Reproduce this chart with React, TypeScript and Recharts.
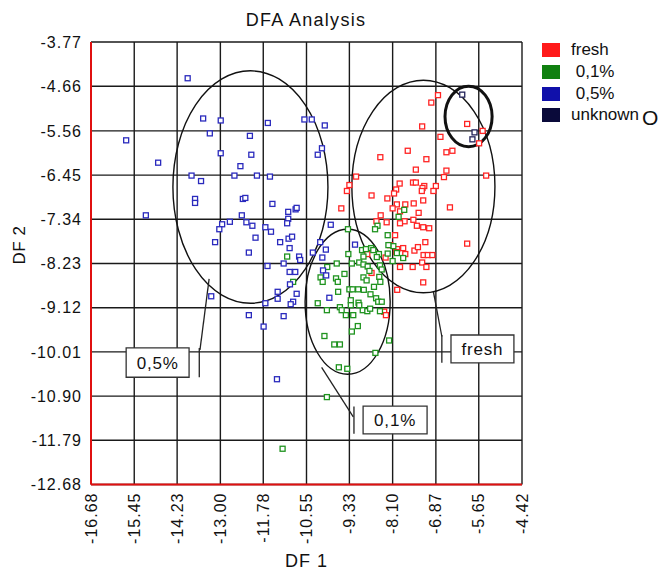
import React from 'react';
import {
  ScatterChart,
  Scatter,
  XAxis,
  YAxis,
  CartesianGrid,
  ReferenceArea,
  ReferenceLine,
} from 'recharts';

const FONT = '"Liberation Sans", Arial, Helvetica, sans-serif';

const xTicks = [-16.68, -15.45, -14.23, -13.0, -11.78, -10.55, -9.33, -8.1, -6.87, -5.65, -4.42];
const yTicks = [-12.68, -11.79, -10.9, -10.01, -9.12, -8.23, -7.34, -6.45, -5.56, -4.66, -3.77];

const freshPoints: [number, number][] = [
  [-6.81, -4.84], [-7.0, -4.99], [-7.26, -5.47], [-5.98, -5.42], [-5.54, -5.56], [-5.64, -5.81],
  [-6.74, -5.68], [-6.4, -5.96], [-6.57, -5.99], [-7.67, -5.96], [-8.45, -6.09], [-7.14, -6.13],
  [-7.44, -6.34], [-6.57, -6.36], [-6.64, -6.49], [-5.44, -6.46], [-9.14, -6.48], [-9.33, -6.65],
  [-9.4, -6.77], [-7.9, -6.62], [-7.52, -6.6], [-7.44, -6.6], [-7.2, -6.67], [-7.25, -6.71],
  [-7.27, -6.77], [-6.87, -6.67], [-6.94, -6.77], [-8.0, -6.74], [-8.06, -6.82], [-8.7, -6.86],
  [-8.25, -6.92], [-9.56, -7.12], [-7.98, -7.04], [-8.1, -7.12], [-7.74, -7.04], [-7.5, -7.02],
  [-7.23, -6.96], [-6.47, -7.1], [-8.44, -7.26], [-7.36, -7.21], [-7.89, -7.18], [-8.56, -7.38],
  [-8.27, -7.4], [-7.76, -7.38], [-7.89, -7.42], [-7.51, -7.35], [-7.41, -7.47], [-7.23, -7.5],
  [-7.06, -7.52], [-8.03, -7.66], [-7.17, -7.8], [-5.98, -7.83], [-8.17, -7.86], [-7.97, -7.94],
  [-8.0, -8.0], [-7.8, -7.92], [-7.74, -8.04], [-7.48, -7.97], [-7.38, -7.9], [-7.22, -8.06],
  [-7.1, -8.06], [-6.97, -8.06], [-8.82, -8.04], [-8.7, -8.42], [-8.3, -8.11], [-7.89, -8.3],
  [-7.53, -8.3], [-7.26, -8.21], [-7.14, -8.3], [-7.23, -8.61], [-7.97, -8.76], [-8.34, -9.2],
  [-8.29, -9.27],
];

const pct01Points: [number, number][] = [
  [-7.77, -7.15], [-7.93, -7.29], [-8.53, -7.47], [-8.6, -7.54], [-8.24, -7.66], [-9.37, -7.54],
  [-8.08, -7.88], [-8.22, -7.86], [-8.71, -7.92], [-8.65, -7.96], [-8.97, -7.96], [-8.86, -7.94],
  [-9.36, -8.04], [-8.49, -8.04], [-8.55, -8.1], [-8.24, -8.03], [-7.98, -8.02], [-8.1, -8.18],
  [-7.8, -8.12], [-8.93, -8.09], [-9.05, -8.21], [-8.93, -8.25], [-9.26, -8.23], [-9.69, -8.23],
  [-9.96, -8.3], [-8.81, -8.29], [-8.76, -8.38], [-8.46, -8.27], [-8.41, -8.35], [-9.47, -8.44],
  [-10.15, -8.51], [-10.09, -8.6], [-9.71, -8.53], [-9.66, -8.6], [-8.93, -8.51], [-8.84, -8.57],
  [-8.48, -8.5], [-8.45, -8.6], [-9.33, -8.75], [-9.24, -8.75], [-9.08, -8.75], [-8.92, -8.76],
  [-8.63, -8.7], [-9.65, -8.8], [-8.73, -8.85], [-8.57, -8.93], [-8.51, -9.0], [-8.41, -9.0],
  [-9.29, -8.97], [-9.07, -9.02], [-10.23, -9.03], [-9.97, -9.17], [-9.6, -9.11], [-9.55, -9.17],
  [-8.95, -9.17], [-8.82, -9.19], [-8.74, -9.14], [-8.46, -9.19], [-9.43, -9.27], [-9.22, -9.27],
  [-9.09, -9.49], [-9.26, -9.6], [-10.04, -9.69], [-9.76, -9.86], [-9.6, -9.86], [-8.2, -9.78],
  [-8.59, -10.03], [-9.63, -10.32], [-9.39, -10.35], [-9.97, -10.92], [-11.23, -11.96],
  [-11.1, -8.09], [-10.93, -8.6], [-9.29, -9.07], [-9.05, -9.07],
];

const pct05Points: [number, number][] = [
  [-13.93, -4.5], [-13.49, -5.31], [-12.99, -5.35], [-11.65, -5.4], [-10.61, -5.33], [-10.4, -5.33],
  [-10.03, -5.45], [-15.68, -5.75], [-13.3, -5.61], [-12.16, -5.66], [-12.99, -6.01], [-12.12, -6.04],
  [-10.11, -5.91], [-10.23, -6.04], [-14.77, -6.2], [-12.43, -6.27], [-13.82, -6.46], [-12.6, -6.46],
  [-11.96, -6.46], [-11.59, -6.48], [-13.55, -6.57], [-13.72, -6.93], [-13.72, -7.01], [-12.36, -6.93],
  [-12.29, -6.91], [-11.52, -7.03], [-15.12, -7.26], [-12.39, -7.26], [-11.07, -7.19], [-10.86, -7.14],
  [-10.83, -7.11], [-11.07, -7.33], [-12.73, -7.39], [-12.95, -7.44], [-13.03, -7.54], [-12.26, -7.4],
  [-12.09, -7.47], [-11.1, -7.42], [-9.86, -7.45], [-11.72, -7.5], [-11.56, -7.59], [-13.15, -7.8],
  [-12.0, -7.71], [-11.3, -7.8], [-11.06, -7.73], [-10.96, -7.69], [-12.19, -8.01], [-11.03, -7.92],
  [-10.76, -8.09], [-10.73, -8.16], [-10.16, -7.8], [-10.0, -7.95], [-10.37, -8.01], [-10.1, -8.11],
  [-11.2, -8.23], [-11.66, -8.28], [-9.17, -7.85], [-11.03, -8.4], [-10.87, -8.4], [-11.02, -8.65],
  [-11.37, -8.8], [-11.37, -8.94], [-10.83, -8.84], [-10.93, -9.0], [-11.0, -9.05], [-11.72, -9.03],
  [-13.26, -8.89], [-12.19, -9.27], [-11.2, -9.29], [-11.77, -9.5], [-11.39, -10.56], [-10.08, -8.37],
  [-9.99, -8.47], [-9.9, -8.92],
];

const unknownPoints: [number, number][] = [
  [-6.12, -4.83], [-5.77, -5.59], [-5.83, -5.73],
];

// Group outlines (bounding boxes in data units) and call-out boxes
const groupEllipses = [
  { x1: -14.35, x2: -9.94, y1: -4.35, y2: -9.03, weight: 1.4 },
  { x1: -9.26, x2: -5.19, y1: -4.54, y2: -8.82, weight: 1.4 },
  { x1: -10.59, x2: -8.17, y1: -7.54, y2: -10.46, weight: 1.4 },
  { x1: -6.61, x2: -5.27, y1: -4.66, y2: -5.88, weight: 3 },
];

const calloutBoxes = [
  { label: '0,5%', x1: -15.68, x2: -13.89, y1: -9.93, y2: -10.52 },
  { label: '0,1%', x1: -8.94, x2: -7.12, y1: -11.1, y2: -11.66 },
  { label: 'fresh', x1: -6.44, x2: -4.65, y1: -9.67, y2: -10.23 },
];

const leaderLines: [[number, number], [number, number]][] = [
  [[-13.32, -8.54], [-13.58, -9.97]],
  [[-13.6, -9.93], [-13.6, -10.52]],
  [[-10.12, -10.32], [-9.22, -11.32]],
  [[-9.2, -11.11], [-9.2, -11.66]],
  [[-6.94, -8.8], [-6.7, -9.7]],
  [[-6.7, -9.67], [-6.7, -10.23]],
];

const seriesInfo = [
  { name: 'fresh', points: freshPoints, color: '#ff2424' },
  { name: '0,1%', points: pct01Points, color: '#1f931f' },
  { name: '0,5%', points: pct05Points, color: '#2a2abd' },
  { name: 'unknown', points: unknownPoints, color: '#23235a' },
];

const legendItems = [
  { label: 'fresh', color: '#ff1a1a', top: 43 },
  { label: ' 0,1%', color: '#108010', top: 64.5 },
  { label: ' 0,5%', color: '#1010aa', top: 87 },
  { label: 'unknown', color: '#0a0a3a', top: 108 },
];

const toData = (pts: [number, number][]) => pts.map(([x, y]) => ({ x, y }));

const squareMarker = (color: string) => (props: any) => {
  const { cx, cy } = props;
  if (cx == null || cy == null) return <g />;
  return (
    <rect
      x={cx - 2.5}
      y={cy - 2.5}
      width={5}
      height={5}
      fill="#fff"
      stroke={color}
      strokeWidth={1.3}
    />
  );
};

const ellipseShape = (weight: number) => (props: any) => {
  const { x, y, width, height } = props;
  if (x == null || width == null) return <g />;
  return (
    <ellipse
      cx={x + width / 2}
      cy={y + height / 2}
      rx={Math.abs(width) / 2}
      ry={Math.abs(height) / 2}
      fill="none"
      stroke="#111"
      strokeWidth={weight}
    />
  );
};

const XTick = (props: any) => {
  const { x, y, payload } = props;
  return (
    <text
      x={x}
      y={y}
      transform={`rotate(-90 ${x} ${y})`}
      textAnchor="end"
      dominantBaseline="central"
      fill="#111"
      fontSize={16}
      fontFamily={FONT}
      letterSpacing={1}
    >
      {Number(payload.value).toFixed(2)}
    </text>
  );
};

export default function App() {
  return (
    <div style={{ position: 'absolute', left: 0, top: 0, width: 668, height: 571, background: '#fff', fontFamily: FONT }}>
      <div
        style={{
          position: 'absolute',
          left: 206,
          top: 9,
          width: 200,
          textAlign: 'center',
          fontSize: 18,
          letterSpacing: 1.3,
          color: '#111',
          lineHeight: '22px',
        }}
      >
        DFA Analysis
      </div>
      <ScatterChart
        width={668}
        height={571}
        margin={{ top: 42, right: 146, bottom: 0, left: 0 }}
      >
        <CartesianGrid stroke="#1a1a1a" strokeWidth={1.4} />
        <XAxis
          type="number"
          dataKey="x"
          domain={[-16.68, -4.42]}
          ticks={xTicks}
          allowDataOverflow
          height={86.5}
          tickSize={0}
          tickMargin={8}
          tickLine={false}
          axisLine={{ stroke: '#e01010', strokeWidth: 2 }}
          tick={<XTick />}
          interval={0}
          label={{
            content: () => (
              <text
                x={306.5}
                y={561}
                textAnchor="middle"
                dominantBaseline="central"
                fontSize={18}
                letterSpacing={1}
                fontFamily={FONT}
                fill="#111"
              >
                DF 1
              </text>
            ),
          }}
        />
        <YAxis
          type="number"
          dataKey="y"
          domain={[-12.68, -3.77]}
          ticks={yTicks}
          allowDataOverflow
          width={91}
          tickSize={0}
          tickMargin={9}
          tickLine={false}
          axisLine={{ stroke: '#e01010', strokeWidth: 2 }}
          interval={0}
          tickFormatter={(v: number) => v.toFixed(2)}
          tick={{ fill: '#111', fontSize: 16, fontFamily: FONT, letterSpacing: 1 }}
          label={{
            content: () => (
              <text
                x={19}
                y={245}
                transform="rotate(-90 19 245)"
                textAnchor="middle"
                dominantBaseline="central"
                fontSize={17}
                letterSpacing={0.5}
                fontFamily={FONT}
                fill="#111"
              >
                DF 2
              </text>
            ),
          }}
        />
        {groupEllipses.map((e, i) => (
          <ReferenceArea
            key={`el-${i}`}
            x1={e.x1}
            x2={e.x2}
            y1={e.y1}
            y2={e.y2}
            shape={ellipseShape(e.weight)}
          />
        ))}
        {leaderLines.map((l, i) => (
          <ReferenceLine
            key={`ll-${i}`}
            segment={[
              { x: l[0][0], y: l[0][1] },
              { x: l[1][0], y: l[1][1] },
            ]}
            stroke="#222"
            strokeWidth={1.3}
          />
        ))}
        {calloutBoxes.map((b, i) => (
          <ReferenceArea
            key={`bx-${i}`}
            x1={b.x1}
            x2={b.x2}
            y1={b.y1}
            y2={b.y2}
            fill="#fff"
            fillOpacity={1}
            stroke="#333"
            strokeWidth={1.3}
            label={{
              value: b.label,
              position: 'center',
              fill: '#111',
              fontSize: 17,
              fontFamily: FONT,
              letterSpacing: 0.8,
            }}
          />
        ))}
        {seriesInfo.map((s) => (
          <Scatter
            key={s.name}
            name={s.name}
            data={toData(s.points)}
            fill={s.color}
            shape={squareMarker(s.color)}
            isAnimationActive={false}
          />
        ))}
      </ScatterChart>
      {legendItems.map((it) => (
        <div key={it.label} style={{ position: 'absolute', left: 542, top: it.top, height: 14 }}>
          <div style={{ position: 'absolute', left: 0, top: 0, width: 18, height: 14, background: it.color }} />
          <div
            style={{
              position: 'absolute',
              left: 29,
              top: -4,
              fontSize: 17,
              lineHeight: '22px',
              whiteSpace: 'pre',
              color: '#111',
            }}
          >
            {it.label}
          </div>
        </div>
      ))}
      <div
        style={{
          position: 'absolute',
          left: 642,
          top: 106,
          fontSize: 21,
          lineHeight: '24px',
          color: '#111',
        }}
      >
        O
      </div>
    </div>
  );
}
